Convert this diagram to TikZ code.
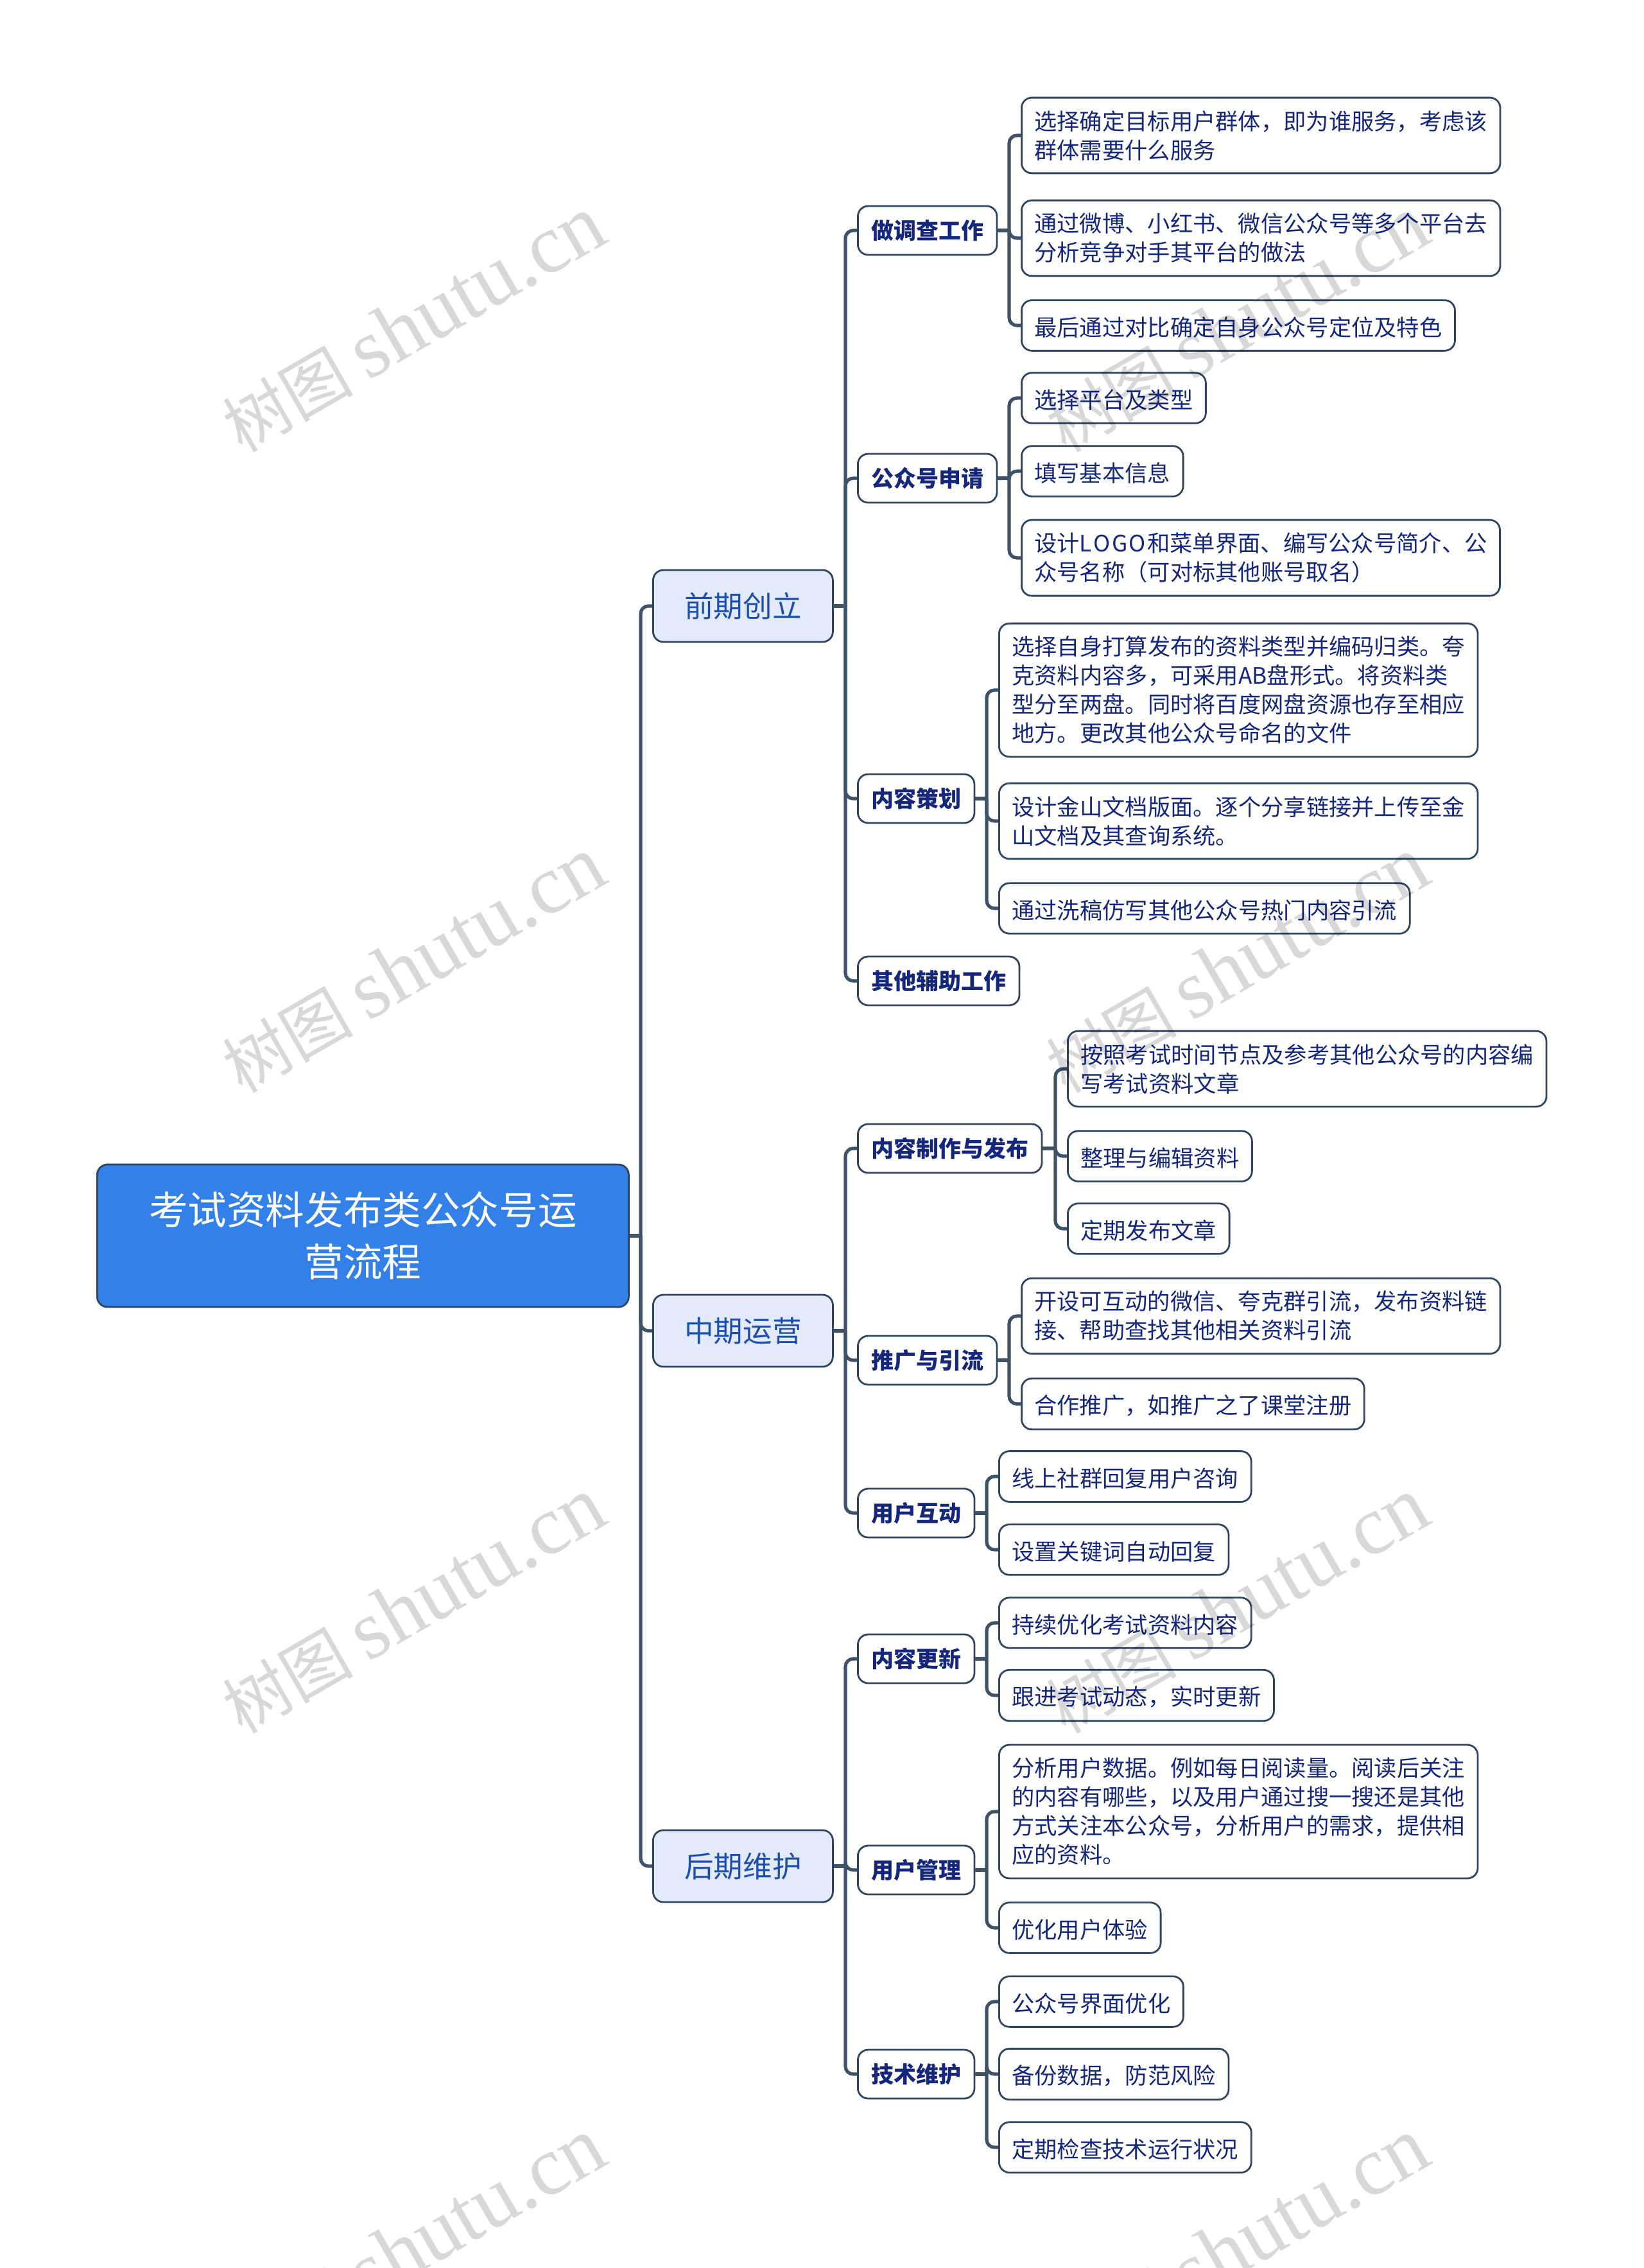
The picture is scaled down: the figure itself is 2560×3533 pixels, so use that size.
\documentclass[tikz,border=0pt]{standalone}
\usepackage{fontspec}
\setmainfont{Noto Sans CJK SC}
\newfontfamily\markfont{Liberation Serif}
\usetikzlibrary{positioning,calc}

\definecolor{linecol}{HTML}{3F5268}
\definecolor{edgecol}{HTML}{2F4560}
\definecolor{rootfill}{HTML}{3380E8}
\definecolor{mainfill}{HTML}{E3EAFB}
\definecolor{maintext}{HTML}{1C4FAE}
\definecolor{leaftext}{HTML}{15277C}
\definecolor{markcol}{HTML}{D8D8D8}

\tikzset{
  anynode/.style={draw=edgecol,line width=0.7pt,rounded corners=4pt,anchor=west,align=left},
  rootbox/.style={anynode,fill=rootfill,text=white,align=center,minimum width=207pt,minimum height=55.5pt,
    font=\fontsize{15.15pt}{20.25pt}\selectfont},
  mainbox/.style={anynode,fill=mainfill,text=maintext,align=center,minimum width=70pt,minimum height=28pt,
    font=\fontsize{11.4pt}{14pt}\selectfont},
  subbox/.style={anynode,fill=white,text=leaftext,inner xsep=5.2pt,inner ysep=0pt,minimum height=19pt,
    font=\fontsize{8.75pt}{11.25pt}\selectfont\bfseries},
  leafbox/.style={anynode,fill=white,text=leaftext,inner xsep=5pt,inner ysep=5pt,
    execute at begin node={\rule{0pt}{8.9pt}},
    font=\fontsize{8.82pt}{11.25pt}\selectfont},
  link/.style={draw=linecol,line width=1.3pt,rounded corners=3pt},
  markbox/.style={text=markcol,blend mode=multiply,rotate=30,font=\fontsize{25.5pt}{30pt}\selectfont}
}
\newcommand{\marktext}{树图 {\markfont\fontsize{32.5pt}{33pt}\selectfont shutu.cn}}

\begin{document}
\begin{tikzpicture}[x=0.25pt,y=-0.25pt]
\useasboundingbox (0,0) rectangle (2560,3533);

% Root and stages
\node[rootbox] (root) at (150,1925) {考试资料发布类公众号运\\营流程};
\node[mainbox] (qian) at (1016,944) {前期创立};
\node[mainbox] (zhong) at (1016,2073) {中期运营};
\node[mainbox] (hou) at (1016,2907) {后期维护};

% Second level
\node[subbox] (diaocha) at (1335,359) {做调查工作};
\node[subbox] (shenqing) at (1335,745) {公众号申请};
\node[subbox] (cehua) at (1335,1244) {内容策划};
\node[subbox] (fuzhu) at (1335,1528) {其他辅助工作};
\node[subbox] (zhizuo) at (1335,1789) {内容制作与发布};
\node[subbox] (tuiguang) at (1335,2119) {推广与引流};
\node[subbox] (hudong) at (1335,2357) {用户互动};
\node[subbox] (gengxin) at (1335,2584) {内容更新};
\node[subbox] (guanli) at (1335,2913) {用户管理};
\node[subbox] (jishu) at (1335,3231) {技术维护};

% Leaves
\node[leafbox] (a1) at (1590,211) {选择确定目标用户群体，即为谁服务，考虑该\\群体需要什么服务};
\node[leafbox] (a2) at (1590,371) {通过微博、小红书、微信公众号等多个平台去\\分析竞争对手其平台的做法};
\node[leafbox] (a3) at (1590,507) {最后通过对比确定自身公众号定位及特色};
\node[leafbox] (b1) at (1590,620) {选择平台及类型};
\node[leafbox] (b2) at (1590,734) {填写基本信息};
\node[leafbox] (b3) at (1590,869) {设计L\kern.6pt O\kern.6pt G\kern.6pt O\kern.6pt 和菜单界面、编写公众号简介、公\\众号名称（可对标其他账号取名）};
\node[leafbox] (c1) at (1555,1075) {选择自身打算发布的资料类型并编码归类。夸\\克资料内容多，可采用AB盘形式。将资料类\\型分至两盘。同时将百度网盘资源也存至相应\\地方。更改其他公众号命名的文件};
\node[leafbox] (c2) at (1555,1279) {设计金山文档版面。逐个分享链接并上传至金\\山文档及其查询系统。};
\node[leafbox] (c3) at (1555,1415) {通过洗稿仿写其他公众号热门内容引流};
\node[leafbox] (d1) at (1662,1665) {按照考试时间节点及参考其他公众号的内容编\\写考试资料文章};
\node[leafbox] (d2) at (1662,1801) {整理与编辑资料};
\node[leafbox] (d3) at (1662,1914) {定期发布文章};
\node[leafbox] (e1) at (1590,2050) {开设可互动的微信、夸克群引流，发布资料链\\接、帮助查找其他相关资料引流};
\node[leafbox] (e2) at (1590,2187) {合作推广，如推广之了课堂注册};
\node[leafbox] (f1) at (1555,2300) {线上社群回复用户咨询};
\node[leafbox] (f2) at (1555,2414) {设置关键词自动回复};
\node[leafbox] (g1) at (1555,2528) {持续优化考试资料内容};
\node[leafbox] (g2) at (1555,2641) {跟进考试动态，实时更新};
\node[leafbox] (h1) at (1555,2822) {分析用户数据。例如每日阅读量。阅读后关注\\的内容有哪些，以及用户通过搜一搜还是其他\\方式关注本公众号，分析用户的需求，提供相\\应的资料。};
\node[leafbox] (h2) at (1555,3003) {优化用户体验};
\node[leafbox] (i1) at (1555,3118) {公众号界面优化};
\node[leafbox] (i2) at (1555,3231) {备份数据，防范风险};
\node[leafbox] (i3) at (1555,3345) {定期检查技术运行状况};

% Connectors
\foreach \from/\to in {root/qian,root/zhong,root/hou,
  qian/diaocha,qian/shenqing,qian/cehua,qian/fuzhu,
  zhong/zhizuo,zhong/tuiguang,zhong/hudong,
  hou/gengxin,hou/guanli,hou/jishu,
  diaocha/a1,diaocha/a2,diaocha/a3,
  shenqing/b1,shenqing/b2,shenqing/b3,
  cehua/c1,cehua/c2,cehua/c3,
  zhizuo/d1,zhizuo/d2,zhizuo/d3,
  tuiguang/e1,tuiguang/e2,
  hudong/f1,hudong/f2,
  gengxin/g1,gengxin/g2,
  guanli/h1,guanli/h2,
  jishu/i1,jishu/i2,jishu/i3}{
  \coordinate (turn) at ([xshift=-4.5pt]\to.west |- \from.east);
  \draw[link] (\from.east) -- (turn);
  \draw[link] (turn) |- (\to.west);
}

% Watermarks
\foreach \y [count=\i] in {505,1503,2501,3499}{
  \node[markbox] (markl\i) at (644,\y) {\marktext};
  \node[markbox] (markr\i) at (1927,\y) {\marktext};
}
\end{tikzpicture}
\end{document}
